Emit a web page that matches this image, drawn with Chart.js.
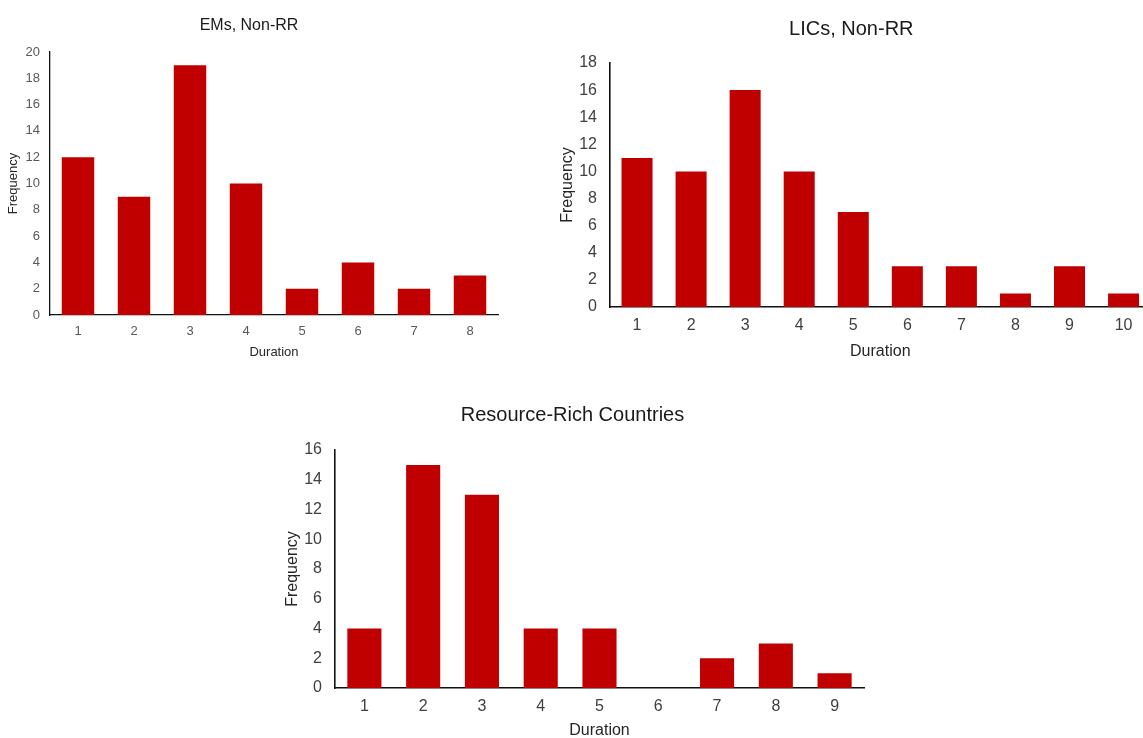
<!DOCTYPE html>
<html>
<head>
<meta charset="utf-8">
<script src="https://cdn.jsdelivr.net/npm/chart.js@4"></script>
<style>
  html, body { margin: 0; padding: 0; background: #fff; width: 1143px; height: 738px; overflow: hidden; }
  .box { position: absolute; }
</style>
</head>
<body>
<div class="box" id="b1" style="left:0px;top:0px;width:520px;height:370px"><canvas id="c1"></canvas></div>
<div class="box" id="b2" style="left:552px;top:0px;width:620px;height:370px"><canvas id="c2"></canvas></div>
<div class="box" id="b3" style="left:281px;top:390px;width:600px;height:352px"><canvas id="c3"></canvas></div>
<script>
// data
var emLabels = ['1', '2', '3', '4', '5', '6', '7', '8'];
var emValues = [12, 9, 19, 10, 2, 4, 2, 3];

var licLabels = ['1', '2', '3', '4', '5', '6', '7', '8', '9', '10'];
var licValues = [11, 10, 16, 10, 7, 3, 3, 1, 3, 1];

var rrLabels = ['1', '2', '3', '4', '5', '6', '7', '8', '9'];
var rrValues = [4, 15, 13, 4, 4, 0, 2, 3, 1];

var yMax = [20, 18, 16];
var yStep = 2;

var RED = '#C00000';
var SANS = "'Liberation Sans', Arial, sans-serif";
var NARROW = "'Liberation Sans Narrow', 'Liberation Sans', Arial, sans-serif";

function makeChart(id, labels, values, max, o) {
    var ctx = document.getElementById(id).getContext('2d');
    return new Chart(ctx, {
        type: 'bar',
        data: {
            labels: labels,
            datasets: [{
                data: values,
                backgroundColor: RED,
                borderWidth: 0,
                categoryPercentage: 1,
                barPercentage: o.bar
            }]
        },
        options: {
            responsive: true,
            maintainAspectRatio: false,
            animation: false,
            layout: { padding: { left: 0, top: 0, bottom: 0, right: o.padRight } },
            plugins: {
                legend: { display: false },
                tooltip: { enabled: false },
                title: {
                    display: true,
                    text: o.title,
                    color: '#1a1a1a',
                    font: { family: SANS, size: o.titleSize, weight: 'normal', lineHeight: 1.2 },
                    padding: { top: o.titleTop, bottom: o.titleBottom }
                }
            },
            scales: {
                x: {
                    afterFit: function (s) { s.height = o.xHeight; },
                    grid: { display: false, drawTicks: false },
                    border: { display: true, color: '#111', width: o.axisWidth },
                    ticks: { color: o.tickColor, padding: o.xTickPad, font: { family: NARROW, size: o.tickSize } },
                    title: {
                        display: true, text: 'Duration', color: '#262626',
                        font: { family: NARROW, size: o.tickSize },
                        padding: { top: 0, bottom: o.xTitlePad }
                    }
                },
                y: {
                    min: 0,
                    max: max,
                    afterFit: function (s) { s.width = o.yWidth; },
                    grid: { display: false, drawTicks: false },
                    border: { display: true, color: '#111', width: o.axisWidth },
                    ticks: { stepSize: yStep, color: o.tickColor, padding: o.yTickPad, font: { family: NARROW, size: o.tickSize } },
                    title: {
                        display: true, text: 'Frequency', color: '#262626',
                        font: { family: NARROW, size: o.yTitleSize },
                        padding: { top: o.yTitlePad, bottom: 0 }
                    }
                }
            }
        }
    });
}

makeChart('c1', emLabels, emValues, yMax[0], {
    title: 'EMs, Non-RR', titleSize: 16, titleTop: 16.4, titleBottom: 16.4,
    padRight: 22, yWidth: 50, xHeight: 55, bar: 0.58,
    tickSize: 13, tickColor: '#595959', yTickPad: 10, xTickPad: 8.2, xTitlePad: 10.2,
    yTitleSize: 13, yTitlePad: 5.2, axisWidth: 1.3
});

makeChart('c2', licLabels, licValues, yMax[1], {
    title: 'LICs, Non-RR', titleSize: 20, titleTop: 17, titleBottom: 22,
    padRight: 21.4, yWidth: 58, xHeight: 63, bar: 0.574,
    tickSize: 16, tickColor: '#404040', yTickPad: 13, xTickPad: 9.4, xTitlePad: 8.4,
    yTitleSize: 16, yTitlePad: 6.4, axisWidth: 1.6
});

makeChart('c3', rrLabels, rrValues, yMax[2], {
    title: 'Resource-Rich Countries', titleSize: 20, titleTop: 13, titleBottom: 23,
    padRight: 17, yWidth: 54, xHeight: 54, bar: 0.58,
    tickSize: 16, tickColor: '#404040', yTickPad: 13, xTickPad: 9.4, xTitlePad: 1.4,
    yTitleSize: 16, yTitlePad: 2.4, axisWidth: 1.6
});
</script>
</body>
</html>
